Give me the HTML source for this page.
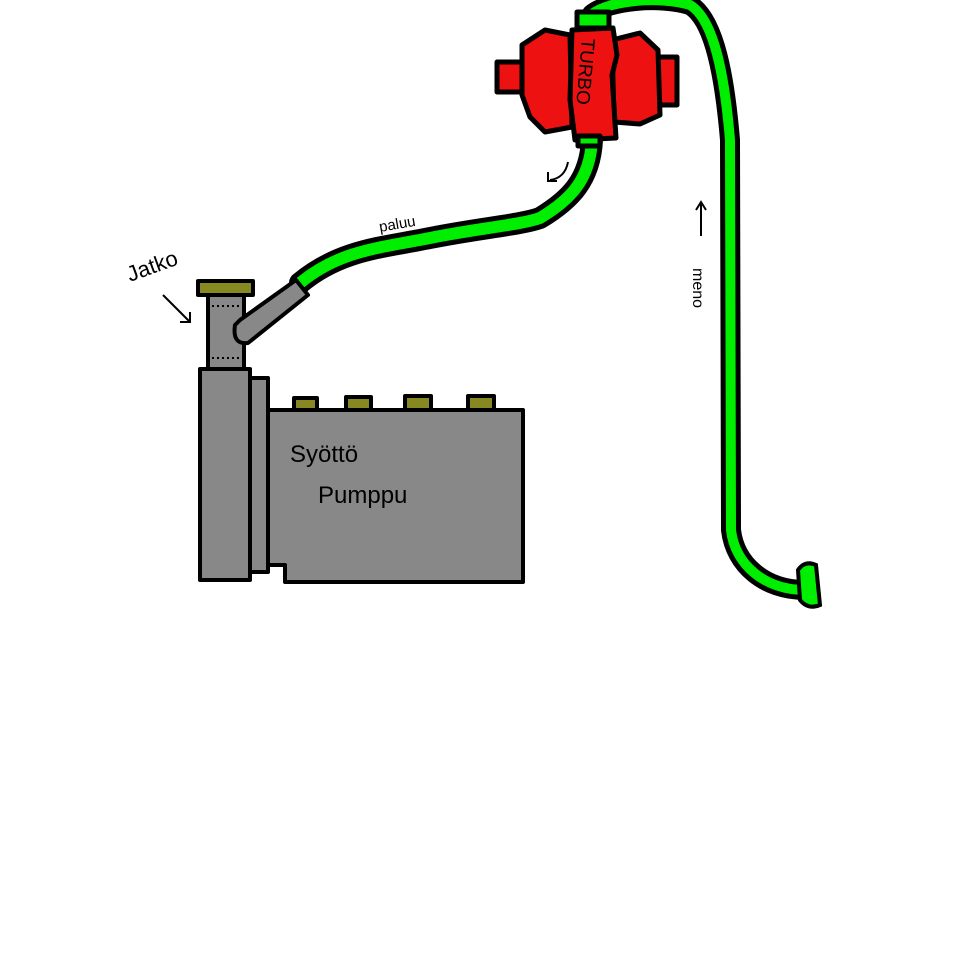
<!DOCTYPE html>
<html><head><style>html,body{margin:0;padding:0;background:#fff}svg{display:block}</style></head>
<body>
<svg width="957" height="964" viewBox="0 0 957 964" xmlns="http://www.w3.org/2000/svg">
<rect width="957" height="964" fill="#fff"/>
<g fill="none" stroke-linecap="round" stroke-linejoin="round">
<path d="M300,283 C340,250 380,248 430,238 C480,228 520,225 540,218 C570,200 590,180 592,140" stroke="#000" stroke-width="22"/>
<path d="M300,283 C340,250 380,248 430,238 C480,228 520,225 540,218 C570,200 590,180 592,140" stroke="#00ee00" stroke-width="12"/>
<path d="M592,14 C610,0 660,-4 690,5 C715,20 725,80 730,140 L731,530 C735,565 765,590 805,590" stroke="#000" stroke-width="20"/>
<path d="M592,14 C610,0 660,-4 690,5 C715,20 725,80 730,140 L731,530 C735,565 765,590 805,590" stroke="#00ee00" stroke-width="10"/>
</g>
<path d="M798,570 Q805,560 816,565 L820,605 Q808,610 800,600 Z" fill="#00ee00" stroke="#000" stroke-width="4"/>
<g stroke="#000" stroke-width="5" fill="#ee1111" stroke-linejoin="round">
<rect x="497" y="62" width="25" height="30"/>
<path d="M522,45 L545,30 L570,35 L572,127 L545,132 L530,117 L522,95 Z"/>
<rect x="655" y="57" width="22" height="48"/>
<path d="M612,40 L640,33 L658,50 L660,115 L640,124 L614,122 Z"/>
<path d="M572,30 L613,28 L617,55 L612,75 L616,138 L575,140 L570,100 Z"/>
<rect x="577" y="12" width="32" height="16" fill="#00ee00"/>
<rect x="578" y="136" width="22" height="10" fill="#00ee00"/>
</g>
<text x="0" y="0" transform="translate(582,38) rotate(95)" font-family="Liberation Sans, sans-serif" font-size="19" fill="#000">TURBO</text>
<g stroke="#000" stroke-width="4" stroke-linejoin="round">
<rect x="294" y="398" width="23" height="12" fill="#888822"/>
<rect x="346" y="397" width="25" height="13" fill="#888822"/>
<rect x="405" y="396" width="26" height="14" fill="#888822"/>
<rect x="468" y="396" width="26" height="14" fill="#888822"/>
<path d="M268,410 L523,410 L523,582 L285,582 L285,565 L268,565 Z" fill="#888"/>
<rect x="250" y="378" width="18" height="194" fill="#888"/>
<rect x="200" y="369" width="50" height="211" fill="#888"/>
<rect x="208" y="294" width="36" height="75" fill="#888"/>
<path d="M240,320 L296,280 L308,295 L248,343 Q232,345 235,325 Z" fill="#888"/>
<rect x="198" y="281" width="55" height="14" fill="#888822"/>
</g>
<g stroke="#000" stroke-width="2" stroke-dasharray="2,3">
<line x1="212" y1="306" x2="240" y2="306"/><line x1="212" y1="358" x2="240" y2="358"/>
</g>
<g font-family="Liberation Sans, sans-serif" fill="#000">
<text x="290" y="462" font-size="24">Syöttö</text>
<text x="318" y="503" font-size="24">Pumppu</text>
<text transform="translate(130,282) rotate(-20)" font-size="22">Jatko</text>
<text transform="translate(380,232) rotate(-10)" font-size="15">paluu</text>
<text transform="translate(693,268) rotate(90)" font-size="16">meno</text>
</g>
<g fill="none" stroke="#000" stroke-width="2">
<path d="M163,295 L190,322 M180,322 L190,322 L190,312"/>
<path d="M568,162 Q565,178 550,180 M548,172 L548,181 L557,181"/>
<path d="M701,236 L701,202 M696,210 L701,202 L706,210"/>
</g>
</svg>
</body></html>
